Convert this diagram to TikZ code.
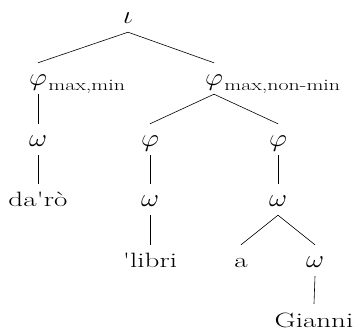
\documentclass[tikz,border=0pt]{standalone}
\begin{document}
% wide set words and Greek labels
\newcommand{\wtxt}[1]{\scalebox{1.4}[1]{#1}}
\newcommand{\wsub}[1]{\scalebox{1.37}[1]{#1}}
\newcommand{\wgr}[1]{\scalebox{1.12}[1]{$#1$}}
\begin{tikzpicture}[x=1pt,y=-1pt,
  lab/.style={inner sep=0pt, text height=23pt, text depth=8pt, anchor=base},
  gr/.style={lab, font=\Huge},
  wd/.style={lab, font=\huge},
  sub/.style={inner sep=0pt, anchor=base west, font=\fontsize{16}{19}\selectfont},
  edge/.style={line width=0.6pt}]
\useasboundingbox (0,0) rectangle (359,331);

% prosodic tree: intonational phrase at the top
\node[gr] (iota) at (128,24) {\wgr{\iota}};

% maximal phonological phrases
\node[gr] (phiA) at (38,86) {\wgr{\varphi}};
\node[sub] (subA) at ([xshift=1pt,yshift=-5pt]phiA.base east) {\wsub{max,min}};
\node[gr] (phiB) at (214,86) {\wgr{\varphi}};
\node[sub] (subB) at ([xshift=1pt,yshift=-5pt]phiB.base east) {\wsub{max,non-min}};

% third row
\node[gr] (omA)  at (38,147)  {\wgr{\omega}};
\node[gr] (phiC) at (150,147) {\wgr{\varphi}};
\node[gr] (phiD) at (278,147) {\wgr{\varphi}};

% fourth row
\node[wd] (daro) at (38,207)  {\wtxt{da\textquotesingle r\`o}};
\node[gr] (omB)  at (150,207) {\wgr{\omega}};
\node[gr] (omC)  at (278,207) {\wgr{\omega}};

% fifth row
\node[wd] (libri) at (150,268) {\wtxt{\textquotesingle libri}};
\node[wd] (a)     at (241,268) {\wtxt{a}};
\node[gr] (omD)   at (315,268) {\wgr{\omega}};

% bottom word
\node[wd, text depth=2pt] (gianni) at (314,327) {\wtxt{Gianni}};

% branches
\draw[edge] (phiA.north) -- (iota.south) -- (phiB.north);
\draw[edge] (phiA.south) -- (omA.north);
\draw[edge] (phiC.north) -- (phiB.south) -- (phiD.north);
\draw[edge] (omA.south) -- (daro.north);
\draw[edge] (phiC.south) -- (omB.north);
\draw[edge] (phiD.south) -- (omC.north);
\draw[edge] (omB.south) -- (libri.north);
\draw[edge] (a.north) -- (omC.south) -- (omD.north);
\draw[edge] (omD.south) -- (gianni.north);
\end{tikzpicture}
\end{document}
